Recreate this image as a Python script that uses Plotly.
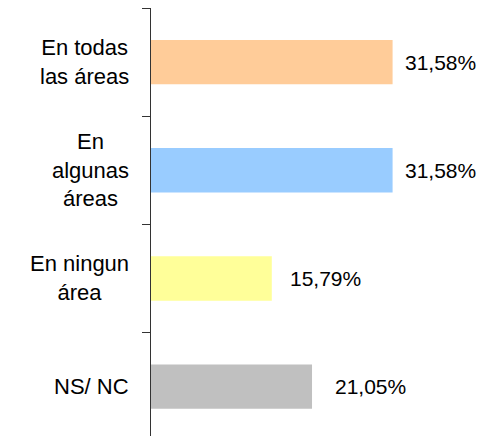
import plotly.graph_objects as go

# --- Datos ---
categorias = ["En todas<br>las áreas", "En<br>algunas<br>áreas", "En ningun<br>área", "NS/ NC"]
porcentajes = [31.58, 31.58, 15.79, 21.05]
colores = ["#FFCC99", "#99CCFF", "#FFFF99", "#C0C0C0"]

# desplazamiento de las etiquetas de valor (px), como en el original
desplaz_etiquetas = [10, 10, 16, 21]

fuente_cat = dict(family="Liberation Sans, Arial, sans-serif", size=22, color="black")
fuente_val = dict(family="Liberation Sans, Arial, sans-serif", size=21, color="black")

fig = go.Figure()
fig.add_trace(go.Bar(x=porcentajes, y=categorias, orientation="h",
                     marker=dict(color=colores, line=dict(width=0)),
                     hoverinfo="skip"))

# --- Etiquetas de valor ---
for cat, val, dx in zip(categorias, porcentajes, desplaz_etiquetas):
    texto = f"{val:.2f}%".replace(".", ",")
    fig.add_annotation(x=val, y=cat, text=texto, showarrow=False,
                       xanchor="left", yanchor="middle", xshift=dx, font=fuente_val)

# --- Etiquetas de categoría (centradas por línea) ---
for cat in categorias:
    fig.add_annotation(x=0, xref="paper", y=cat, text=cat, showarrow=False,
                       xanchor="right", yanchor="middle", align="center",
                       xshift=-20, font=fuente_cat)

fig.update_layout(
    width=478, height=436,
    margin=dict(l=151, r=21, t=8, b=0),
    paper_bgcolor="white", plot_bgcolor="white",
    bargap=0.59,
    showlegend=False,
    xaxis=dict(range=[0, 40], visible=False, showgrid=False, zeroline=False),
    # el eje sigue por debajo del borde inferior, como en el original
    yaxis=dict(type="category", range=[3.456, -0.5], showticklabels=False,
               showline=True, linecolor="#333333", linewidth=1,
               ticks="outside", ticklen=8, tickcolor="#333333", tickson="boundaries",
               showgrid=False, zeroline=False),
)

# quitar el margen del body para que la figura empiece en (0, 0)
fig.write_html("out.html", config={"displayModeBar": False},
               post_script="document.body.style.margin='0';")
